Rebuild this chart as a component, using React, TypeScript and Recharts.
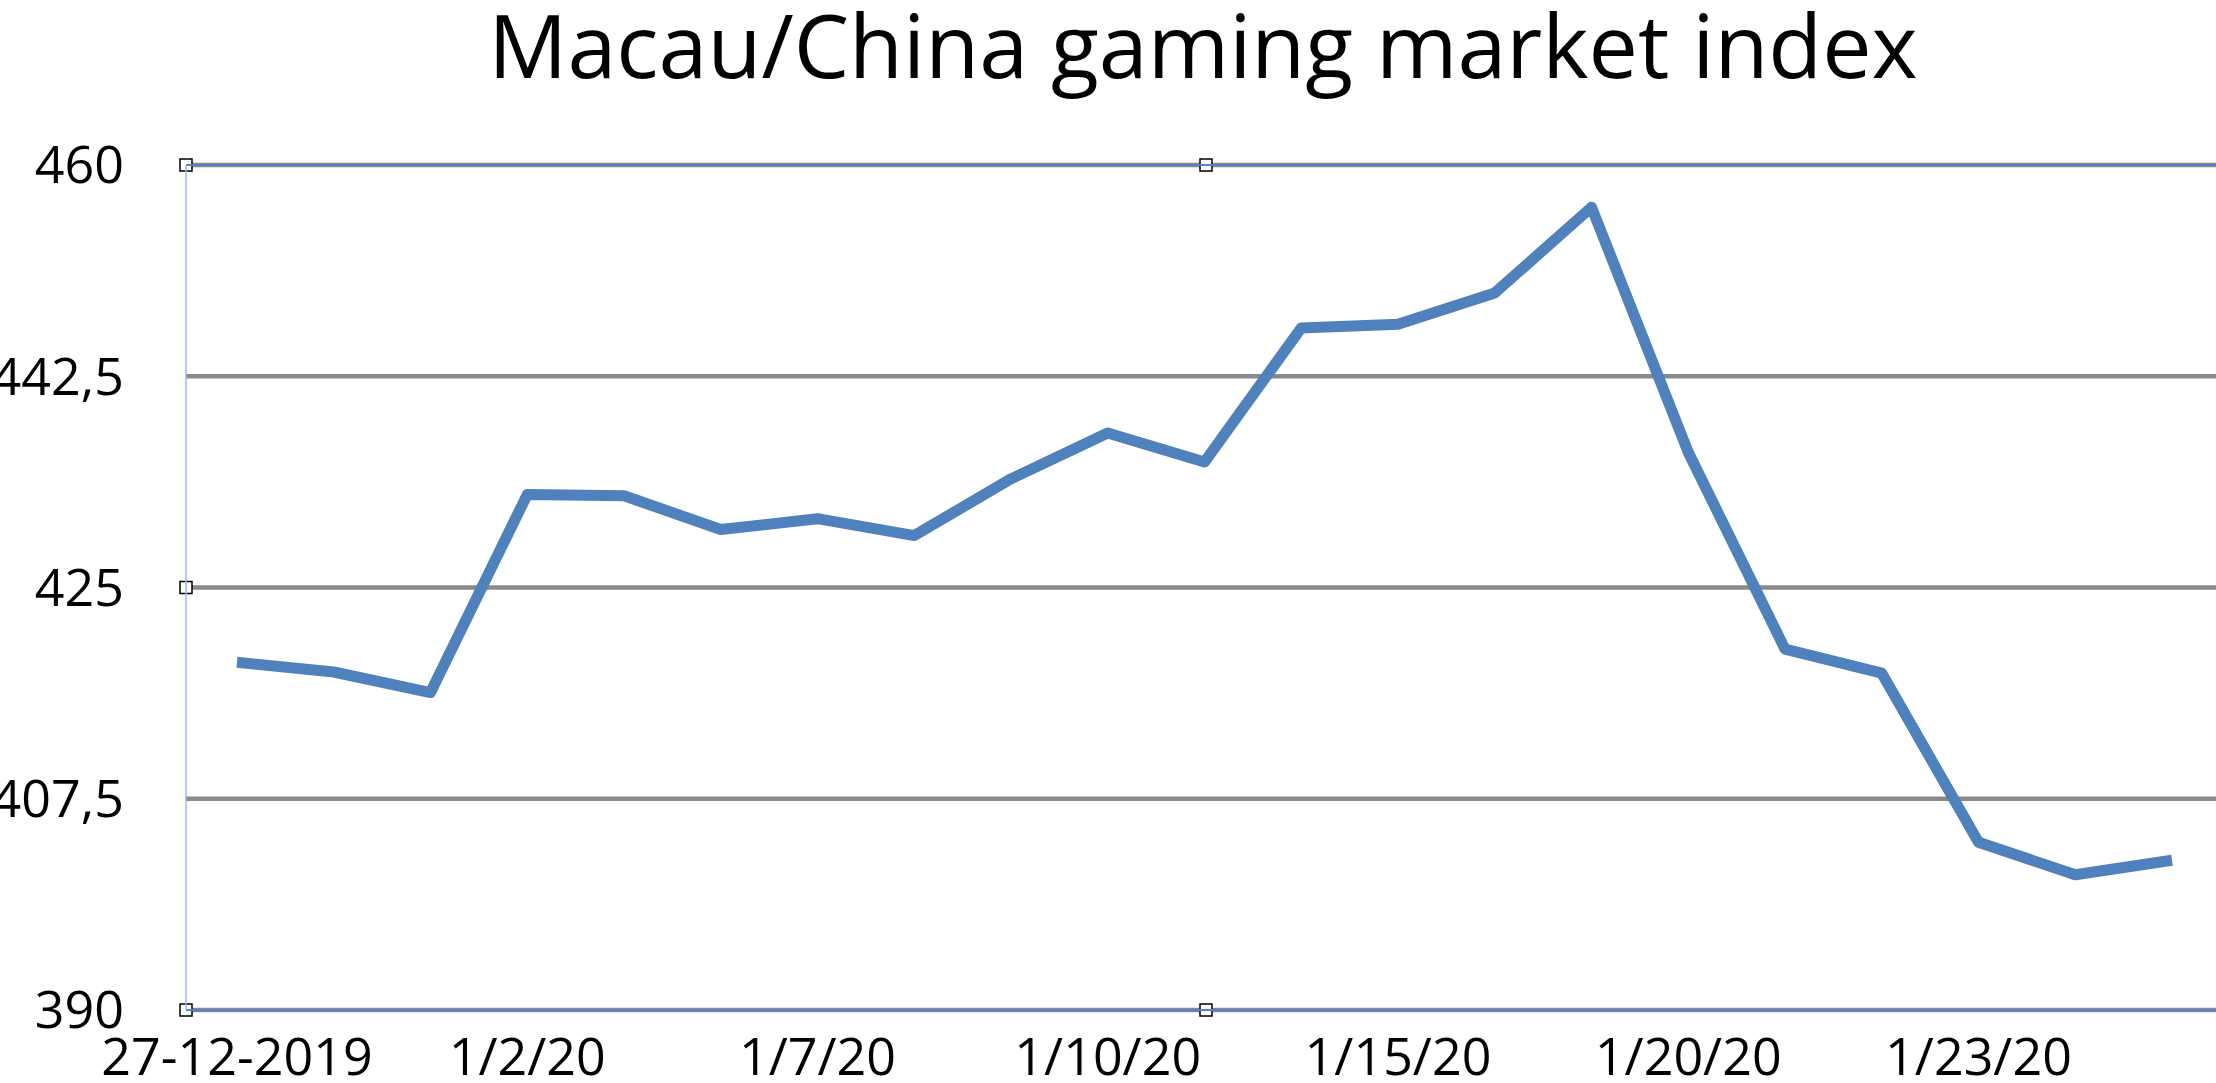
import React from 'react';
import * as R from 'recharts';
import { LineChart, Line, XAxis, YAxis, CartesianGrid, ReferenceLine } from 'recharts';

const dates = [
  '27-12-2019', '12/30/19', '12/31/19', '1/2/20', '1/3/20', '1/6/20', '1/7/20',
  '1/8/20', '1/9/20', '1/10/20', '1/13/20', '1/14/20', '1/15/20', '1/16/20',
  '1/17/20', '1/20/20', '1/21/20', '1/22/20', '1/23/20', '1/24/20', '1/27/20',
];
const indexValues = [
  418.8, 418.0, 416.3, 432.7, 432.6, 429.8, 430.7, 429.3, 434.0, 437.8, 435.4,
  446.5, 446.8, 449.4, 456.5, 436.2, 419.9, 417.9, 403.9, 401.2, 402.4,
];
const yTicks = [390, 407.5, 425, 442.5, 460];
const title = 'Macau/China gaming market index';

const data = dates.map((d, i) => ({ date: d, value: indexValues[i] }));

const FONT = '"Open Sans", "DejaVu Sans", sans-serif';

const usePA: any = (R as any).usePlotArea;

function Handles() {
  const pa = usePA ? usePA() : null;
  if (!pa) return null;
  const s = 12;
  const left = pa.x;
  const midX = pa.x + pa.width / 2;
  const top = pa.y;
  const bottom = pa.y + pa.height;
  const midY = pa.y + pa.height / 2;
  const pts = [
    [left, top], [midX, top], [left, midY], [left, bottom], [midX, bottom],
  ];
  return (
    <g>
      {pts.map(([x, y], i) => (
        <rect key={i} x={x - s / 2} y={y - s / 2} width={s} height={s}
          fill="#ffffff" stroke="#000000" strokeWidth={1.5} />
      ))}
    </g>
  );
}

export default function App() {
  return (
    <div style={{ position: 'absolute', left: 0, top: 0, width: 2216, height: 1083, overflow: 'hidden', background: '#fff' }}>
      <div style={{
        position: 'absolute', left: 0, top: 0, width: 2216, paddingLeft: 190, boxSizing: 'border-box',
        textAlign: 'center', fontFamily: FONT, fontSize: 88, lineHeight: '88px', color: '#000', whiteSpace: 'nowrap',
      }}>{title}</div>
      <LineChart width={2226} height={1083} data={data}
        margin={{ top: 165, right: 0, bottom: 0, left: 0 }}>
        <CartesianGrid horizontal vertical={false} stroke="#8a8a8a" strokeWidth={4.5} />
        <XAxis dataKey="date" interval={2} axisLine={false} tickLine={false}
          tickSize={0} tickMargin={28} height={73} padding={{ left: 51, right: 54 }}
          tick={{ fill: '#000', fontSize: 52, fontFamily: FONT }} />
        <YAxis domain={[390, 460]} ticks={yTicks} width={186} tickLine={false}
          tickSize={0} tickMargin={62}
          axisLine={{ stroke: '#9db6ea', strokeWidth: 1.5 }}
          tickFormatter={(v: number) => String(v).replace('.', ',')}
          tick={{ fill: '#000', fontSize: 52, fontFamily: FONT }} />
        <ReferenceLine y={460} stroke="#5b7fcc" strokeWidth={2} />
        <ReferenceLine y={390} stroke="#5b7fcc" strokeWidth={2} />
        <Line type="linear" dataKey="value" stroke="#4f81bd" strokeWidth={11}
          strokeLinejoin="round" strokeLinecap="butt" dot={false} activeDot={false}
          isAnimationActive={false} />
        <Handles />
      </LineChart>
    </div>
  );
}
